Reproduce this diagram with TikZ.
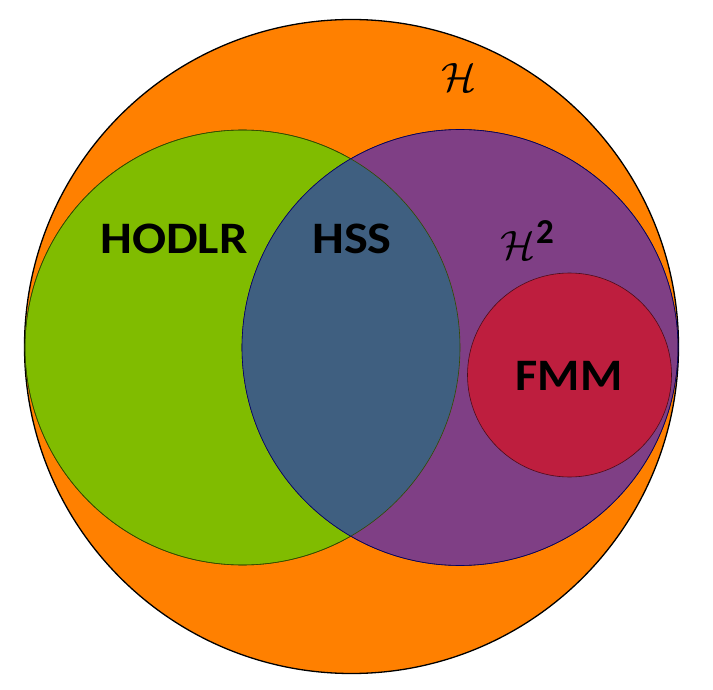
\documentclass[tikz,border=0pt]{standalone}
\usepackage{fontspec}
\usepackage{graphicx}
\setsansfont{Carlito}
\definecolor{orangeH}{RGB}{255,128,0}
\definecolor{greenH}{RGB}{128,188,0}
\definecolor{purpleH}{RGB}{127,63,133}
\definecolor{overlapH}{RGB}{63,95,128}
\definecolor{redH}{RGB}{190,30,62}
\begin{document}
\begin{tikzpicture}[x=1pt,y=-1pt,
  setcirc/.style={circle,inner sep=0pt,line width=0.6pt},
  lbl/.style={font=\sffamily\bfseries\fontsize{45}{50}\selectfont,inner sep=0pt,xscale=1.12}]
\useasboundingbox (0,0) rectangle (713,690);
\node[setcirc,draw=black,line width=1.3pt,fill=orangeH,minimum size=654pt] (outer) at (351.5,346.5) {};
\node[setcirc,draw=black!60!greenH,fill=greenH,minimum size=435pt] (hodlr) at (242.5,347.5) {};
\node[setcirc,draw=black!60!purpleH,fill=purpleH,minimum size=436pt] (h2) at (460,347.5) {};
\begin{scope}
  \clip (242.5,347.5) circle (217.5);
  \fill[overlapH] (460,347.5) circle (218);
\end{scope}
\draw[line width=0.6pt,draw=black!60!greenH] (242.5,347.5) circle (217.5);
\draw[line width=0.6pt,draw=blue!40!black] (460,347.5) circle (218);
\node[setcirc,draw=black!60!redH,fill=redH,minimum size=204pt] (fmm) at (569.5,375) {};
\node[lbl] (tH) at (174,239) {HODLR};
\node[lbl] (tHSS) at (352,239) {HSS};
\node[lbl,xscale=0.96] (tFMM) at (569,376) {FMM};
\node[inner sep=0pt] (tcalH) at (459,77) {\scalebox{4.1}{$\mathcal{H}$}};
\node[inner sep=0pt] (tcalH2) at (518,245) {\scalebox{4.1}{$\mathcal{H}$}};
\node[inner sep=0pt,font=\sffamily\bfseries\fontsize{35}{38}\selectfont] (tsup) at (545,232) {2};
\end{tikzpicture}
\end{document}
